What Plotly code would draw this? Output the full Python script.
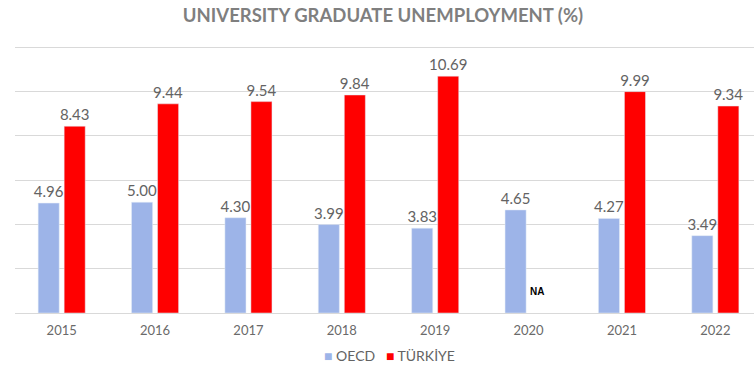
import plotly.graph_objects as go

years = ["2015", "2016", "2017", "2018", "2019", "2020", "2021", "2022"]
oecd = [4.96, 5.00, 4.30, 3.99, 3.83, 4.65, 4.27, 3.49]
turkiye = [8.43, 9.44, 9.54, 9.84, 10.69, None, 9.99, 9.34]
series_names = ["OECD", "TÜRKİYE"]

BLUE = "#9db4e8"
RED = "#ff0000"
GREY = "#636363"
FONT = "Lato"

fig = go.Figure()
for name, vals, col in [(series_names[0], oecd, BLUE), (series_names[1], turkiye, RED)]:
    fig.add_trace(go.Bar(
        x=years, y=vals, name=name, marker_color=col,
        text=[("" if v is None else f"{v:.2f}") for v in vals], textposition="outside",
        textfont=dict(family=FONT, size=15, color=GREY),
        constraintext="none", cliponaxis=False, showlegend=False))

# NA marker for missing Türkiye 2020 value (category index 5)
na_idx = turkiye.index(None)
fig.add_annotation(x=na_idx, y=0.95, text="<b>NA</b>", showarrow=False,
                   xshift=8, xanchor="center", yanchor="middle",
                   font=dict(family="Liberation Sans", size=10, color="#000000"))

# legend drawn as text
legend_text = (f"<span style='color:{BLUE}'>■</span> {series_names[0]}"
               f"&nbsp;&nbsp;&nbsp;<span style='color:{RED}'>■</span> {series_names[1]}")
fig.add_annotation(xref="paper", yref="paper", x=0.507, y=-0.158, text=legend_text,
                   showarrow=False, xanchor="center", yanchor="middle",
                   font=dict(family=FONT, size=14, color=GREY))

fig.update_layout(
    width=754, height=371,
    margin=dict(l=15, r=0, t=46, b=58),
    paper_bgcolor="white", plot_bgcolor="white",
    barmode="group", bargap=0.443, bargroupgap=0.19,
    title=dict(text="<b>UNIVERSITY GRADUATE UNEMPLOYMENT (%)</b>",
               x=0.508, xanchor="center", y=0.958, yanchor="middle",
               font=dict(family=FONT, size=18.5, color="#7f7f7f")),
    showlegend=False,
    xaxis=dict(type="category", range=[-0.5, 7.414], showgrid=False,
               showline=True, linecolor="#d9d9d9", linewidth=1,
               ticks="outside", ticklen=5, tickcolor="rgba(0,0,0,0)",
               tickfont=dict(family=FONT, size=13, color="#6a6a6a")),
    yaxis=dict(range=[0, 12.05], tickvals=[0, 2, 4, 6, 8, 10, 12], showgrid=True,
               gridcolor="#d9d9d9", gridwidth=1, showticklabels=False,
               zeroline=False, ticks=""),
)

fig.write_html("out.html")
